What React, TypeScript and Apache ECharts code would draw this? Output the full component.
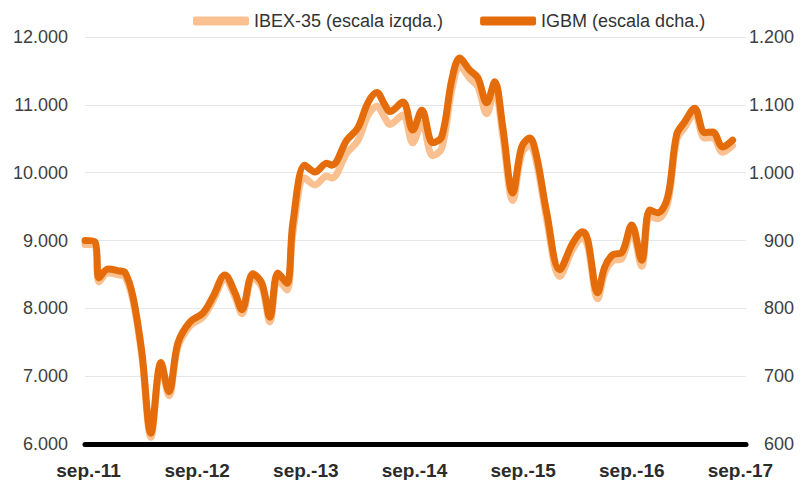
import React, { useEffect, useRef } from "react";
import * as echarts from "echarts";

// months since sep.-11 (irregular sampling at the visible turning points)
const months = [
  0, 1.1, 1.55, 2.54, 3.86, 4.42, 5.3, 6.29, 7.28, 8.39, 9.27, 10.26, 11.59, 13.02, 14.13, 15.45,
  16.56, 17.33, 18.54, 19.54, 20.42, 21.3, 22.3, 22.96, 24.28, 25.39, 26.71, 27.26, 28.92, 30.13,
  31.24, 32.23, 33.11, 33.66, 35.1, 36.2, 37.2, 38.41, 39.4, 40.51, 41.39, 42.49, 43.38, 44.37,
  45.25, 46.14, 47.24, 48.23, 49.12, 49.89, 50.99, 52.43, 53.86, 54.97, 55.52, 56.62, 57.4, 58.28,
  59.27, 60.38, 61.48, 62.36, 63.25, 64.35, 65.34, 66.23, 67.33, 68.43, 69.32, 70.42, 71.52,
];

const ibex = [
  8940, 8920, 8390, 8520, 8490, 8470, 8110, 7280, 6100, 7140, 6710, 7430, 7740, 7870, 8110, 8430,
  8170, 7920, 8450, 8310, 7800, 8440, 8270, 9110, 9920, 9820, 9950, 9920, 10290, 10470,
  10840, 10980, 10810, 10710, 10850, 10440, 10730, 10250, 10360, 11220, 11570, 11390, 11270, 10870,
  11220, 10540, 9590, 10280, 10410, 10130, 9310, 8470, 8870, 9040, 8920, 8140, 8520, 8700,
  8730, 9140, 8620, 9360, 9320, 9550, 10480, 10670, 10870, 10510, 10520, 10300, 10400,
];

const igbm = [
  900, 898, 845, 858, 855, 853, 817, 734, 616, 720, 677, 749, 780, 793, 817, 849,
  823, 798, 851, 837, 787, 852, 837, 926, 1011, 1001, 1014, 1011, 1048, 1066,
  1103, 1118, 1100, 1090, 1104, 1063, 1092, 1044, 1053, 1137, 1169, 1151, 1140, 1103,
  1134, 1067, 970, 1038, 1051, 1023, 941, 857, 896, 913, 901, 823, 861, 879,
  882, 923, 871, 945, 941, 964, 1056, 1075, 1095, 1059, 1060, 1038, 1048,
];

const xTickLabels = ["sep.-11", "sep.-12", "sep.-13", "sep.-14", "sep.-15", "sep.-16", "sep.-17"];
const seriesNames = ["IBEX-35 (escala izqda.)", "IGBM (escala dcha.)"];
const colors = ["#FBC08F", "#E46C0A"];

const fmt = (v: number) => {
  const s = String(Math.round(v));
  return s.replace(/\B(?=(\d{3})+(?!\d))/g, ".");
};

const FONT = "'Liberation Sans', Arial, Helvetica, sans-serif";

export default function App() {
  const ref = useRef<HTMLDivElement>(null);
  useEffect(() => {
    if (!ref.current) return;
    const chart = echarts.init(ref.current, null, { renderer: "svg" });
    chart.setOption({
      animation: false,
      backgroundColor: "#ffffff",
      textStyle: { fontFamily: FONT },
      legend: {
        top: 7,
        left: 188,
        icon: "roundRect",
        itemWidth: 56,
        itemHeight: 9,
        itemGap: 37,
        textStyle: { fontSize: 18, color: "#333333", fontFamily: FONT },
        data: seriesNames,
      },
      grid: { left: 85, right: 65, top: 37, bottom: 36, containLabel: false },
      xAxis: {
        type: "value",
        min: 0,
        max: 73,
        interval: 12,
        axisLine: { show: true, lineStyle: { color: "#000000", width: 5 } },
        axisTick: { show: false },
        splitLine: { show: false },
        axisLabel: {
          margin: 17,
          fontSize: 19,
          fontWeight: "bold",
          color: "#2b2b2b",
          fontFamily: FONT,
          padding: [0, 0, 0, 7],
          formatter: (v: number) => (v % 12 === 0 ? xTickLabels[v / 12] ?? "" : ""),
        },
      },
      yAxis: [
        {
          type: "value",
          min: 6000,
          max: 12000,
          interval: 1000,
          position: "left",
          axisLine: { show: false },
          axisTick: { show: false },
          splitLine: { show: true, lineStyle: { color: "#e6e6e6", width: 1 } },
          axisLabel: { margin: 17, fontSize: 18, color: "#404040", fontFamily: FONT, formatter: fmt },
        },
        {
          type: "value",
          min: 600,
          max: 1200,
          interval: 100,
          position: "right",
          axisLine: { show: false },
          axisTick: { show: false },
          splitLine: { show: false },
          axisLabel: {
            margin: 48,
            align: "right",
            fontSize: 18,
            color: "#404040",
            fontFamily: FONT,
            formatter: fmt,
          },
        },
      ],
      series: [
        {
          name: seriesNames[0],
          type: "line",
          yAxisIndex: 0,
          data: months.map((m, i) => [m, ibex[i]]),
          smooth: 0.35,
          showSymbol: false,
          symbol: "none",
          color: colors[0],
          lineStyle: { color: colors[0], width: 7, cap: "round", join: "round" },
          z: 2,
        },
        {
          name: seriesNames[1],
          type: "line",
          yAxisIndex: 1,
          data: months.map((m, i) => [m, igbm[i]]),
          smooth: 0.35,
          showSymbol: false,
          symbol: "none",
          color: colors[1],
          lineStyle: { color: colors[1], width: 7, cap: "round", join: "round" },
          z: 3,
        },
      ],
    });
    return () => chart.dispose();
  }, []);
  return (
    <div
      ref={ref}
      style={{ position: "fixed", left: 0, top: 0, width: 811, height: 480, background: "#fff" }}
    />
  );
}
